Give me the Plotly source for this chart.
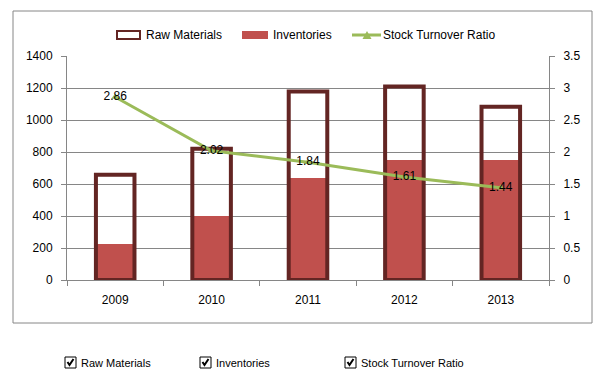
import plotly.graph_objects as go

years = ["2009", "2010", "2011", "2012", "2013"]
raw_materials = [658, 820, 1178, 1210, 1083]
inventories = [225, 400, 637, 750, 750]
turnover_ratio = [2.86, 2.02, 1.84, 1.61, 1.44]
turnover_labels = ["2.86", "2.02", "1.84", "1.61", "1.44"]

W, H = 606, 376
def px(x):
    return x / W
def py(y):
    return 1 - y / H

FONT = "Liberation Sans"
MAROON = "#632523"
RED = "#C0504D"
GREEN = "#9BBB59"
GRID = "#868686"

fig = go.Figure()
fig.add_trace(go.Bar(x=years, y=inventories, name="Inventories", width=0.4,
                     marker=dict(color=RED, line=dict(width=0)), showlegend=False))
fig.add_trace(go.Bar(x=years, y=raw_materials, name="Raw Materials", width=0.4,
                     marker=dict(color="rgba(0,0,0,0)", line=dict(color=MAROON, width=4)),
                     showlegend=False))
fig.add_trace(go.Scatter(x=years, y=turnover_ratio, yaxis="y2", name="Stock Turnover Ratio",
                         mode="lines+markers+text", text=turnover_labels,
                         textposition="middle center",
                         textfont=dict(family=FONT, size=12, color="#000000"),
                         line=dict(color=GREEN, width=3),
                         marker=dict(symbol="triangle-up", size=7, color=GREEN),
                         showlegend=False, cliponaxis=False))

shapes = []
annotations = []
# outer frame
shapes.append(dict(type="rect", xref="paper", yref="paper", x0=px(13), x1=px(592),
                   y0=py(323), y1=py(11), line=dict(color=GRID, width=1)))
# top legend
shapes.append(dict(type="rect", xref="paper", yref="paper", x0=px(117), x1=px(140),
                   y0=py(39), y1=py(31), line=dict(color=MAROON, width=2), fillcolor="white"))
annotations.append(dict(text="Raw Materials", x=px(144), y=py(35), xref="paper", yref="paper",
                        xanchor="left", yanchor="middle", showarrow=False))
shapes.append(dict(type="rect", xref="paper", yref="paper", x0=px(242), x1=px(268),
                   y0=py(39), y1=py(31), line=dict(width=0), fillcolor=RED))
annotations.append(dict(text="Inventories", x=px(271), y=py(35), xref="paper", yref="paper",
                        xanchor="left", yanchor="middle", showarrow=False))
shapes.append(dict(type="line", xref="paper", yref="paper", x0=px(352), x1=px(381),
                   y0=py(35), y1=py(35), line=dict(color=GREEN, width=3)))
shapes.append(dict(type="path", xref="paper", yref="paper",
                   path=f"M {px(362.5)} {py(39)} L {px(371.5)} {py(39)} L {px(367)} {py(31)} Z",
                   fillcolor=GREEN, line=dict(width=0)))
annotations.append(dict(text="Stock Turnover Ratio", x=px(381), y=py(35), xref="paper", yref="paper",
                        xanchor="left", yanchor="middle", showarrow=False))

# bottom checkboxes
for bx, label in [(65, "Raw Materials"), (200, "Inventories"), (345, "Stock Turnover Ratio")]:
    shapes.append(dict(type="rect", xref="paper", yref="paper", x0=px(bx), x1=px(bx + 11),
                       y0=py(368), y1=py(357), line=dict(color="#000000", width=1), fillcolor="white"))
    shapes.append(dict(type="path", xref="paper", yref="paper",
                       path=f"M {px(bx+2.5)} {py(362)} L {px(bx+4.5)} {py(365)} L {px(bx+8.5)} {py(359)}",
                       line=dict(color="#000000", width=2)))
    annotations.append(dict(text=label, x=px(bx + 14), y=py(362.5), xref="paper", yref="paper",
                            xanchor="left", yanchor="middle", showarrow=False,
                            font=dict(family=FONT, size=11, color="#000000")))

fig.update_layout(
    width=W, height=H,
    margin=dict(l=0, r=0, t=0, b=0, autoexpand=False),
    paper_bgcolor="white", plot_bgcolor="white",
    barmode="overlay",
    font=dict(family=FONT, size=12, color="#000000"),
    shapes=shapes, annotations=annotations,
    xaxis=dict(domain=[px(67), px(549)], showline=True, linecolor=GRID, linewidth=1,
               ticks="outside", tickson="boundaries", ticklen=5, tickcolor=GRID,
               showgrid=False, ticklabelstandoff=9, automargin=False),
    yaxis=dict(domain=[py(280), py(56)], range=[0, 1400], dtick=200, showline=True,
               linecolor=GRID, gridcolor=GRID, gridwidth=1, ticks="outside", ticklen=5,
               tickcolor=GRID, zeroline=False, ticklabelstandoff=6, automargin=False),
    yaxis2=dict(range=[0, 3.5], dtick=0.5, overlaying="y", side="right", showline=True,
                linecolor=GRID, showgrid=False, ticks="outside", ticklen=5, tickcolor=GRID,
                zeroline=False, anchor="x", ticklabelstandoff=6, automargin=False),
)

fig.write_html("out.html", config={"displayModeBar": False},
               post_script="document.body.style.margin='0';")
